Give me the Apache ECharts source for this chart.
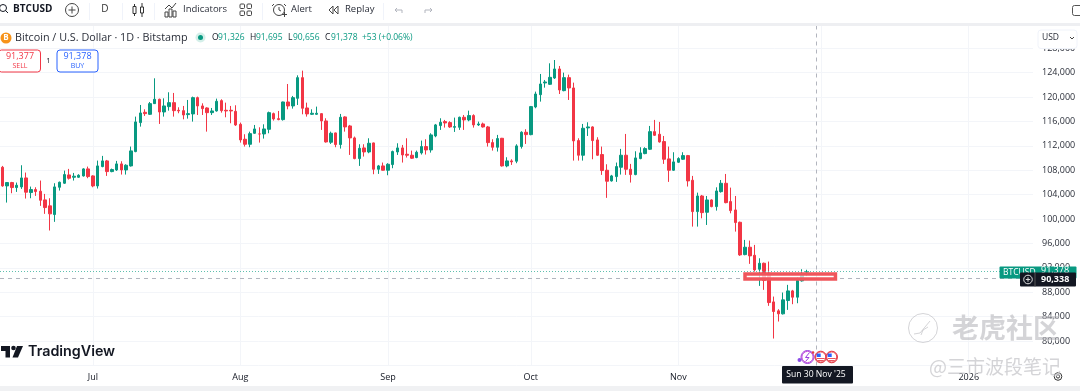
<!DOCTYPE html>
<html>
<head>
<meta charset="utf-8">
<style>html,body{margin:0;padding:0;background:#fff}#main{width:1080px;height:391px;filter:blur(0.6px)}</style>
<script src="https://cdn.jsdelivr.net/npm/echarts@6/dist/echarts.min.js"></script>
</head>
<body>
<div id="main"></div>
<script>
// daily candles (first candle is 12 Jun 2025)
var opens = [108500,105440,105990,105170,105280,106750,104350,104840,104570,103150,102170,100750,105220,105880,107240,106860,106860,107080,108230,107080,105440,108610,109540,107790,108060,109050,108060,108720,111070,115820,117510,117180,118930,119640,117560,118440,119090,117840,117780,117130,117240,119910,118550,118220,117450,117730,119420,117840,117840,117670,115540,113090,112270,114070,113960,113960,114720,
  117290,116470,116310,119200,118550,119800,123190,118220,117180,117180,117290,116090,112600,114130,112220,116750,115270,113310,109920,111670,111010,112490,108170,108720,108010,108940,111010,111670,110630,110470,110090,110850,111890,111340,113630,115330,115980,115820,115050,115050,116690,116260,116970,115440,115600,115110,112540,111780,113250,108720,109540,109490,111890,114240,113850,118380,
  120400,122320,122100,123130,124610,121060,123190,121500,112870,110470,114950,115110,112980,110580,108010,106260,106970,108500,110470,108170,107300,109920,110740,111450,114340,113910,112710,109870,108010,109320,109810,110410,106370,101230,103790,101120,103140,102050,104500,105870,102870,101500,99480,94180,95390,94070,91780,92760,91130,86430,84960,84470,86650,88230,87200,89870,91326];
var closes = [105440,105990,105170,105550,106750,104410,104840,104510,103090,101890,100860,105280,106040,107300,106700,107030,107190,108230,106970,105440,108720,109540,107790,108120,109050,108060,108830,111180,115930,117400,117290,118930,119640,117560,118550,119090,117780,117730,117070,117290,119910,118550,118110,117450,117730,119310,117780,117730,117730,115430,112980,112270,114010,114780,113960,114780,117450,
  116420,116310,119200,118550,119910,123190,118170,117240,117350,117350,116090,112650,114070,112220,116690,115110,113310,109920,111610,111010,112430,108170,108720,108010,108990,111070,111670,110520,110470,109980,110960,111890,111340,113800,115440,115870,115760,115110,115160,116690,116260,116970,115440,115600,115110,112540,111780,113200,108720,109540,109380,112000,114240,113850,118440,120510,
  122150,122480,123240,124610,121170,123190,121500,112820,110470,114890,115110,112870,110470,107960,106210,107080,108610,110470,108170,107300,110030,110850,111560,114340,113740,112650,109810,108010,109380,109920,110410,106260,101230,103790,101060,103140,102050,104610,105870,102700,101390,99430,94130,95390,93970,91670,92760,89930,86320,84850,84470,86760,88230,87200,89930,90850,91378];
var highs = [108720,106000,106100,105990,108830,107630,105330,105220,106320,104130,103420,105880,106150,107950,108230,107570,107350,108340,108610,107190,109590,110360,109700,108280,109540,109480,108990,111890,116800,118710,118000,119200,123080,119750,119800,120790,120680,118330,118550,119530,120080,120080,118980,118330,118220,119750,119640,119090,118550,118660,115820,113910,114340,115430,115050,115540,117620,
  117460,117730,119260,122150,120190,123570,124340,119090,118000,118440,117350,116530,114340,114180,117240,116860,115440,113530,112270,112270,113250,112540,108880,109270,109160,111230,112430,112160,113250,111230,111230,112870,113090,114070,115600,116530,116260,116040,116640,116800,117070,117780,117180,115980,115820,115270,113090,113800,113310,110140,109810,112270,114400,114730,118550,120900,
  123790,122810,125540,126080,125100,124010,123680,122370,113250,115600,115870,115220,113420,111890,108990,107250,109270,111510,113960,109050,111120,111780,111780,115270,116260,115930,113630,111890,110960,110140,110960,110520,107080,104340,103960,103790,103250,105210,106410,107400,105160,103790,99590,96590,96480,95770,93580,92870,93040,87300,85230,87960,89220,88400,90470,91780,91695];
var lows = [105300,102710,104240,104460,104950,103370,103420,103800,102170,100860,98130,99550,104680,105770,106480,106320,106750,106970,106700,105220,105010,108500,107080,107680,107900,107300,107300,108610,110960,115160,116910,117070,118870,115600,116800,117780,116800,117350,116360,116470,115980,117070,117070,114340,117070,117620,117450,116690,115710,115270,112540,111890,111780,113960,112540,113200,114070,
  116150,116200,116150,118000,118110,118710,117180,116800,117070,117070,114620,112540,112320,111780,111560,114340,110520,109810,108720,110250,110800,107360,107410,107960,107190,108340,110520,109270,110090,109870,109980,110580,110580,110900,113420,114620,115000,114950,114290,114620,114620,116040,115000,115270,115000,111890,111230,111070,108610,108500,108880,109160,111560,112320,113740,118170,
  119260,121550,121990,122970,120510,120950,119530,109590,109590,109590,113630,109810,110360,107250,103480,106150,106100,107300,107250,105990,107190,109810,110630,111340,113630,112540,109050,106100,107900,109210,109700,105340,98770,98770,100130,99040,101940,101390,104340,102590,100950,97950,93970,94070,92660,91400,89050,88400,85780,80420,83210,84360,85120,86050,86210,89760,90656];

var yTicks = [80000,84000,88000,92000,96000,100000,104000,108000,112000,116000,120000,124000,128000];
var monthLabels = {'2025-07-01':'Jul','2025-08-01':'Aug','2025-09-01':'Sep','2025-10-01':'Oct','2025-11-01':'Nov','2025-12-01':'','2026-01-01':'2026'};
var crossDate = '2025-11-30', crossPrice = 90338, lastPrice = 91378;
// red box drawn on the screenshot: from/to category, price band
var boxFrom = '2025-11-15', boxTo = '2025-12-04', boxHigh = 91000, boxLow = 90180;

var UP = '#089981', DOWN = '#f23645', INK = '#131722', GRID = '#f3f5f9';

var dates = [];
var d0 = Date.UTC(2025, 5, 12);
for (var k = 0; k < 217; k++) dates.push(new Date(d0 + k * 86400000).toISOString().slice(0, 10));

var candles = opens.map(function(o, i) { return [o, closes[i], lows[i], highs[i]]; });
var isMonthStart = function(i, v) { return monthLabels[v] !== undefined; };

function txt(s, x, y, font, fill, align, z) {
    return { type: 'text', z: z || 20, silent: true, style: { text: s, x: x, y: y, font: font, fill: fill, textAlign: align || 'left', textVerticalAlign: 'middle' } };
}
function box(x, y, w, h, fill, stroke, r, z) {
    return { type: 'rect', z: z || 15, silent: true, shape: { x: x, y: y, width: w, height: h, r: r || 0 }, style: { fill: fill || 'none', stroke: stroke || 'none', lineWidth: 1 } };
}
function dot(x, y, r, fill, stroke, z) {
    return { type: 'circle', z: z || 20, silent: true, shape: { cx: x, cy: y, r: r }, style: { fill: fill || 'none', stroke: stroke || 'none', lineWidth: 1 } };
}
// open stroke for small toolbar icons
function pl(pts, stroke, z) {
    return { type: 'polyline', z: z || 20, silent: true, shape: { points: pts }, style: { fill: 'none', stroke: stroke, lineWidth: 1 } };
}
function pg(pts, fill, stroke, z) {
    return { type: 'polygon', z: z || 20, silent: true, shape: { points: pts }, style: { fill: fill || 'none', stroke: stroke || 'none', lineWidth: 1 } };
}
var UI = '"Open Sans", sans-serif';
var f = function(px, w) { return (w || 'normal') + ' ' + px + 'px ' + UI; };

var toolbar = [
    box(0, 0, 1080, 24, '#fff'),
    box(0, 23, 1080, 3, '#eeeff2', null, 0, 16),
    dot(3, 8, 3.5, null, INK), pl([[5.5, 10.5], [8, 13]], INK),
    txt('BTCUSD', 13, 9.5, f(10, 'bold'), INK),
    dot(72, 10, 6.5, null, '#444'), pl([[68.5, 10], [75.5, 10]], '#444'), pl([[72, 6.5], [72, 13.5]], '#444'),
    txt('D', 105, 9.5, f(10), '#333', 'center'),
    pl([[134.5, 4], [134.5, 16]], '#333'), box(133, 6.5, 3, 7, '#fff', '#333', 0, 21),
    pl([[142, 3], [142, 17]], '#333'), box(140.5, 7, 3, 6, '#fff', '#333', 0, 21),
    pg([[165, 17], [165, 12], [168, 12], [168, 17]], null, '#444'), pg([[169, 17], [169, 9], [172, 9], [172, 17]], null, '#444'), pg([[173, 17], [173, 11], [176, 11], [176, 17]], null, '#444'),
    pl([[165, 9], [169, 5], [172, 8], [176, 3]], '#444'),
    txt('Indicators', 183, 9.5, f(9.5), '#2a2e39'),
    box(240, 4, 4.5, 4.5, null, '#444', 1), box(247, 4, 4.5, 4.5, null, '#444', 1),
    box(240, 11, 4.5, 4.5, null, '#444', 1), box(247, 11, 4.5, 4.5, null, '#444', 1),
    dot(279, 10, 5.5, null, '#444'), pl([[279, 7], [279, 10], [281, 11]], '#444'), pl([[274, 4], [272, 6]], '#444'), pl([[284, 4], [286, 6]], '#444'),
    pl([[282, 14.5], [287, 14.5]], '#444'), pl([[284.5, 12], [284.5, 17]], '#444'),
    pg([[333, 6], [333, 14], [329, 10]], null, '#444'), pg([[338, 6], [338, 14], [334, 10]], null, '#444'),
    txt('Alert', 291, 9.5, f(9.5), '#2a2e39'),
    txt('Replay', 345, 9.5, f(9.5), '#2a2e39'),
    pl([[397, 8], [395, 10], [397, 12]], '#b2b5be'), pl([[395, 10], [402, 10], [402, 13]], '#b2b5be'),
    pl([[430, 8], [432, 10], [430, 12]], '#b2b5be'), pl([[432, 10], [425, 10], [425, 13]], '#b2b5be'),
    box(89, 3, 1, 17, '#f0f3fa'), box(122, 3, 1, 17, '#f0f3fa'), box(154, 3, 1, 17, '#f0f3fa'),
    box(262, 3, 1, 17, '#f0f3fa'), box(383, 3, 1, 17, '#f0f3fa'),
    box(1072.5, 5.5, 10, 10, '#fff', '#555', 2, 17)
];

var header = [
    dot(6, 38, 5.5, '#f7931a'), txt('B', 6, 38, f(8, 'bold'), '#fff', 'center', 21),
    txt('Bitcoin / U.S. Dollar \u00b7 1D \u00b7 Bitstamp', 15, 38, f(10.8), '#2a2e39'),
    dot(200.5, 37.5, 5, '#d4efe9'), dot(200.5, 37.5, 2.5, UP, null, 21),
    txt('O', 212, 38, f(8.5), INK), txt('91,326', 218, 38, f(8.5), UP),
    txt('H', 250, 38, f(8.5), INK), txt('91,695', 256, 38, f(8.5), UP),
    txt('L', 288, 38, f(8.5), INK), txt('90,656', 293, 38, f(8.5), UP),
    txt('C', 325, 38, f(8.5), INK), txt('91,378', 331, 38, f(8.5), UP),
    txt('+53 (+0.06%)', 362, 38, f(8.5), UP),
    box(-1.5, 50, 42, 22, '#fff', DOWN, 3),
    txt('91,377', 20, 56, f(9), DOWN, 'center'), txt('SELL', 20, 66, f(7), DOWN, 'center'),
    txt('1', 48.5, 61, f(7.5), INK, 'center'),
    box(57, 50, 41, 22, '#fff', '#2962ff', 3),
    txt('91,378', 77.5, 56, f(9), '#2962ff', 'center'), txt('BUY', 77.5, 66, f(7), '#2962ff', 'center'),
    box(1038, 30, 39, 18.5, '#fff', '#f0f3fa', 3),
    txt('USD', 1042, 38, f(8.5), '#2a2e39'), pl([[1070, 37], [1072, 39], [1074, 37]], '#444')
];

var logo = [
    pg([[1, 346], [10, 346], [10, 357.5], [5.5, 357.5], [5.5, 351], [1, 351]], INK),
    dot(13.5, 348, 2.3, INK),
    pg([[17, 346], [23, 346], [18, 357.5], [12.5, 357.5]], INK),
    txt('TradingView', 28, 351.5, '600 14.3px Inter, sans-serif', INK)
];

var tags = [
    box(999.5, 266.5, 77, 12, UP, null, 1, 22),
    txt('BTCUSD', 1003, 272.5, f(8.5), '#fff', 'left', 23),
    txt('91,378', 1041, 270, f(9), '#fff', 'left', 23),
    box(1020, 272.5, 56, 14, INK, null, 1, 24),
    box(1034.5, 272.5, 1, 14, '#555', null, 0, 25),
    dot(1028, 279.5, 4.3, null, '#ddd', 25), pl([[1025.8, 279.5], [1030.2, 279.5]], '#ddd', 25), pl([[1028, 277.3], [1028, 281.7]], '#ddd', 25),
    txt('90,338', 1041, 279.5, f(9, 'bold'), '#fff', 'left', 25)
];

function flag(x) {
    return [
        dot(x, 357, 5.8, '#fff', '#e53945', 22),
        dot(x, 357, 5.1, null, '#e53945', 22),
        box(x - 4, 353.5, 4, 3.5, '#2962ff', null, 0, 23),
        box(x - 4, 358, 8, 1, '#e9525c', null, 0, 23),
        box(x - 3, 360, 6, 1, '#e9525c', null, 0, 23)
    ];
}

var foot = [].concat([
    box(782, 366, 71, 17.5, INK, null, 1, 24),
    txt("Sun 30 Nov '25", 816, 375, f(8.6), '#fff', 'center', 25),
    dot(807.5, 357, 6.5, '#fff', '#9c3fe0', 22), dot(807.5, 357, 5.6, null, '#c04ad8', 22),
    pl([[809.5, 352.5], [805.5, 357.5], [809, 357.5], [805.5, 361.5]], '#9c3fe0', 23),
    dot(799.5, 360, 2, '#8a4be8', null, 23), dot(813, 352.5, 1.3, '#e53945', null, 23)
], flag(820.7), flag(831.7), [
    box(0, 386, 1080, 5, '#f0f1f3', null, 0, 16),
    dot(1058, 376.5, 3.8, null, '#333'), dot(1058, 376.5, 1.6, null, '#333')
]);

// watermark of the site the screenshot came from
var MARK = 'rgba(170,170,175,0.5)';
var mark = [
    dot(923, 328, 14.5, 'rgba(255,255,255,0.25)', MARK, 30),
    pl([[914, 334], [920, 333], [925, 327], [930, 321]], MARK, 30), pl([[921, 335], [923, 330], [928, 327]], MARK, 30),
    { type: 'text', z: 30, silent: true, style: { text: '\u8001\u864e\u793e\u533a', x: 952, y: 328, font: 'bold 27px "Noto Sans CJK SC"', fill: MARK, stroke: 'rgba(255,255,255,0.5)', lineWidth: 1, textVerticalAlign: 'middle' } },
    { type: 'text', z: 30, silent: true, style: { text: '@\u4e09\u5e02\u6ce2\u6bb5\u7b14\u8bb0', x: 929, y: 367, font: '19px "Noto Sans CJK SC"', fill: MARK, stroke: 'rgba(255,255,255,0.5)', lineWidth: 1, textVerticalAlign: 'middle' } }
];

var option = {
    animation: false,
    backgroundColor: '#fff',
    grid: { left: 0, width: 1033, top: 23.9, height: 341.6 },
    xAxis: {
        type: 'category',
        data: dates,
        boundaryGap: true,
        axisLine: { show: false },
        axisTick: { show: false },
        splitLine: { show: true, alignWithLabel: true, interval: isMonthStart, lineStyle: { color: GRID } },
        axisLabel: {
            interval: isMonthStart,
            margin: 7,
            color: INK,
            fontFamily: 'Open Sans',
            fontSize: 9,
            formatter: function(v) { return monthLabels[v] || ''; }
        }
    },
    yAxis: {
        type: 'value',
        position: 'right',
        min: 76000,
        max: 132000,
        interval: 4000,
        axisLine: { show: false },
        axisTick: { show: false },
        splitLine: { lineStyle: { color: GRID } },
        axisLabel: {
            margin: 9,
            color: '#2a2e39',
            fontFamily: 'Open Sans',
            fontSize: 9,
            formatter: function(v) { return yTicks.indexOf(v) >= 0 ? v.toLocaleString('en-US') : ''; }
        }
    },
    series: [{
        type: 'candlestick',
        data: candles,
        barWidth: 3,
        itemStyle: { color: UP, color0: DOWN, borderColor: UP, borderColor0: DOWN, borderWidth: 1 },
        markLine: {
            silent: true,
            symbol: 'none',
            label: { show: false },
            animation: false,
            data: [
                { xAxis: crossDate, lineStyle: { color: '#b2b5be', type: [4, 4], width: 1 } },
                { yAxis: crossPrice, lineStyle: { color: '#b2b5be', type: [4, 4], width: 1 } },
                { yAxis: lastPrice, lineStyle: { color: '#5fbfae', type: [1, 2], width: 1 } }
            ]
        },
        markArea: {
            silent: true,
            z: 10,
            itemStyle: { color: 'rgba(255,255,255,0.72)', borderColor: '#f0555b', borderWidth: 3.5 },
            data: [[{ xAxis: boxFrom, yAxis: boxHigh }, { xAxis: boxTo, yAxis: boxLow }]]
        }
    }],
    graphic: [].concat(toolbar, header, logo, tags, foot, mark)
};

var myChart = echarts.init(document.getElementById('main'));
myChart.setOption(option);
</script>
</body>
</html>
